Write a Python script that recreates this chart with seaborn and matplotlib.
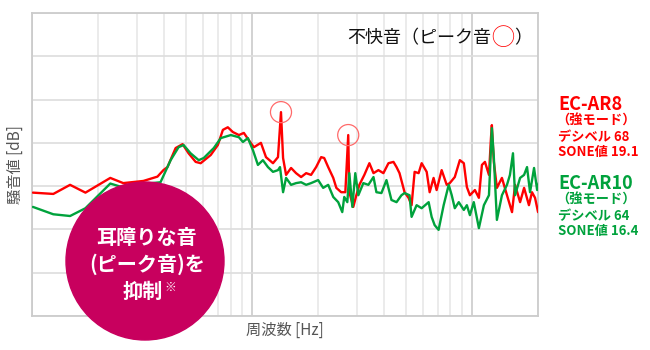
import matplotlib
matplotlib.use("Agg")
import matplotlib.pyplot as plt
import seaborn as sns
from matplotlib.patches import Ellipse
from matplotlib.ticker import LogLocator, NullFormatter

# EC-AR8 (red) spectrum: frequency [Hz], level [dB]
ar8_freq = [101, 125, 149, 175, 227, 260, 321, 372, 396, 413, 450, 484, 515, 555,
            585, 650, 700, 738, 777, 819, 873, 919, 969, 1021, 1099, 1159, 1247,
            1314, 1356, 1386, 1430, 1507, 1588, 1674, 1765, 1858, 1959, 2065, 2132,
            2223, 2344, 2421, 2547, 2660, 2742, 2773, 2891, 2985, 3081, 3246, 3422,
            3572, 3760, 3963, 4178, 4404, 4547, 4691, 4945, 5157, 5323, 5495, 5730,
            5915, 6235, 6432, 6702, 6919, 7294, 7690, 7939, 8368, 8822, 9199, 9496,
            9803, 10330, 10770, 11117, 11476, 11967, 12220, 12336, 12598, 13004,
            13709, 14454, 15237, 15730, 16580, 17290, 18190, 18780, 19390, 20010]
ar8_db = [48.5, 48.2, 50.3, 48.5, 51.9, 50.7, 51.2, 52.2, 53.7, 54.4, 58.8, 59.7, 57.6, 55.6,
          55.3, 57.2, 59.5, 63.0, 63.6, 62.5, 61.8, 62.3, 60.6, 59.0, 60.0, 56.7, 55.3,
          56.7, 67.1, 56.5, 52.6, 54.2, 53.0, 52.1, 53.0, 52.6, 54.4, 56.7, 56.5,
          54.4, 51.9, 49.6, 48.6, 48.6, 61.8, 48.6, 45.2, 47.9, 50.3, 52.6, 55.3,
          53.0, 53.7, 53.0, 55.3, 55.6, 54.4, 53.0, 48.6, 47.3, 45.6, 53.3, 53.0,
          55.3, 53.3, 48.6, 51.9, 49.1, 53.7, 50.3, 50.7, 52.1, 56.0, 55.3, 49.8,
          47.9, 49.1, 47.3, 54.9, 55.6, 52.6, 61.1, 64.1, 55.6, 49.6,
          51.9, 47.9, 44.0, 50.3, 46.3, 49.6, 45.6, 48.6, 47.3, 44.0]

# EC-AR10 (green) spectrum
ar10_freq = [101, 125, 149, 175, 227, 252, 321, 384, 427, 464, 489, 526, 573, 604, 671,
             722, 802, 873, 910, 959, 1011, 1065, 1122, 1183, 1247, 1314, 1342, 1386,
             1430, 1507, 1588, 1674, 1765, 1858, 2001, 2109, 2223, 2344, 2469, 2576,
             2630, 2716, 2773, 2863, 2952, 3048, 3212, 3386, 3572, 3683, 3882, 4092,
             4312, 4547, 4787, 4945, 5209, 5323, 5610, 5915, 6365, 6567, 6776, 7063,
             7448, 7852, 8105, 8368, 8724, 9199, 9496, 9803, 10210, 10770, 11350,
             11967, 12336, 12598, 13004, 13709, 14454, 14910, 15390, 15730, 16580,
             17290, 17830, 18400, 19190, 19820, 20460]
ar10_db = [45.2, 43.5, 43.1, 44.9, 50.6, 49.9, 50.5, 50.9, 56.0, 59.0, 59.5, 57.6, 56.0, 56.5, 58.8,
           61.1, 61.8, 61.3, 60.2, 61.1, 58.3, 54.9, 56.0, 54.4, 53.3, 53.7, 54.4, 48.6,
           51.9, 50.3, 50.7, 50.9, 50.3, 50.7, 51.4, 49.6, 50.3, 47.5, 46.3, 44.0,
           47.5, 46.3, 53.0, 45.2, 53.0, 47.9, 50.7, 50.3, 52.1, 48.6, 48.4, 51.4,
           46.8, 46.3, 47.9, 48.4, 47.9, 42.9, 45.6, 44.9, 46.3, 42.9, 41.0, 39.9,
           45.6, 50.3, 47.9, 44.9, 46.3, 44.5, 45.6, 43.3, 46.3, 40.3, 45.6,
           47.9, 63.4, 56.5, 42.2, 47.9, 50.3, 52.6, 57.6, 47.9, 51.9,
           52.6, 54.4, 48.6, 54.2, 49.1, 51.9]

# peaks marked as unpleasant sounds
peak_freq = [1356, 2742]
peak_db = [67.1, 61.8]

legend_items = [
    ("EC-AR8", "（強モード）", "デシベル 68", "SONE値 19.1"),
    ("EC-AR10", "（強モード）", "デシベル 64", "SONE値 16.4"),
]

RED = "#ff0000"
GREEN = "#00a23c"
MAGENTA = "#c8005e"

sns.set_style("white")
plt.rcParams["font.family"] = ["Noto Sans CJK JP", "DejaVu Sans"]

fig = plt.figure(figsize=(6.5, 3.5), dpi=100)
ax = fig.add_axes([32 / 650, 34 / 350, 506 / 650, 303 / 350])

sns.lineplot(x=ar8_freq, y=ar8_db, ax=ax, color=RED, lw=1.7, zorder=3)
sns.lineplot(x=ar10_freq, y=ar10_db, ax=ax, color=GREEN, lw=1.7, zorder=4)
ax.scatter(peak_freq, peak_db, s=230, facecolors="none", edgecolors="#ff6a6a",
           linewidths=0.9, zorder=5)

ax.set_xscale("log")
ax.set_xlim(100, 20000)
ax.set_ylim(20, 90)
ax.set_yticks(range(20, 91, 10))
ax.xaxis.set_major_locator(LogLocator(base=10))
ax.xaxis.set_minor_locator(LogLocator(base=10, subs=range(2, 10)))
ax.xaxis.set_minor_formatter(NullFormatter())
ax.grid(which="major", axis="x", color="#cfcfcf", lw=1.3)
ax.grid(which="minor", axis="x", color="#e8e8e8", lw=1.2)
ax.grid(which="major", axis="y", color="#dddddd", lw=1.2)
ax.tick_params(which="both", length=0, labelbottom=False, labelleft=False)
for s in ax.spines.values():
    s.set_color("#cccccc")
    s.set_linewidth(1.3)

ax.set_xlabel("周波数 [Hz]", fontsize=11, color="#555555", labelpad=4)
ax.set_ylabel("騒音値 [dB]", fontsize=11, color="#555555", labelpad=6)

# title inside the plot: black text with a red circle glyph
t1 = ax.text(315 / 506, 0.915, "不快音（ピーク音", transform=ax.transAxes,
             fontsize=13, va="center", ha="left", color="#111111")
t2 = ax.annotate("◯", xy=(1, 0.5), xycoords=t1, ha="left", va="center",
                 fontsize=16.5, color=RED)
ax.annotate("）", xy=(1, 0.5), xycoords=t2, ha="left", va="center",
            fontsize=13, color="#111111")

# magenta badge
fig.patches.append(Ellipse((145 / 650, 1 - 261 / 350), 158 / 650, 158 / 350,
                           transform=fig.transFigure, color=MAGENTA, zorder=10))
badge_lines = ["耳障りな音", "(ピーク音)を"]
for i, line in enumerate(badge_lines):
    fig.text(147 / 650, 1 - (237 + 27 * i) / 350, line, ha="center", va="center",
             fontsize=14.5, fontweight="bold", color="white", zorder=11)
fig.text(143 / 650, 1 - 291 / 350, "抑制", ha="center", va="center",
         fontsize=14.5, fontweight="bold", color="white", zorder=11)
fig.text(164 / 650, 1 - 287 / 350, "※", ha="left", va="center",
         fontsize=8.5, fontweight="bold", color="white", zorder=11)

# right-hand legend
for items, color, y0 in zip(legend_items, [RED, GREEN], [104, 183]):
    name, mode, db, sone = items
    fig.text(558 / 650, 1 - y0 / 350, name, fontsize=13, fontweight="bold",
             color=color, va="center", ha="left")
    fig.text(556 / 650, 1 - (y0 + 17) / 350, mode, fontsize=9.5, fontweight="bold",
             color=color, va="center", ha="left")
    fig.text(558 / 650, 1 - (y0 + 33) / 350, db, fontsize=9.5, fontweight="bold",
             color=color, va="center", ha="left")
    fig.text(558 / 650, 1 - (y0 + 48) / 350, sone, fontsize=9.5, fontweight="bold",
             color=color, va="center", ha="left")

fig.savefig("out.png", dpi=100)
